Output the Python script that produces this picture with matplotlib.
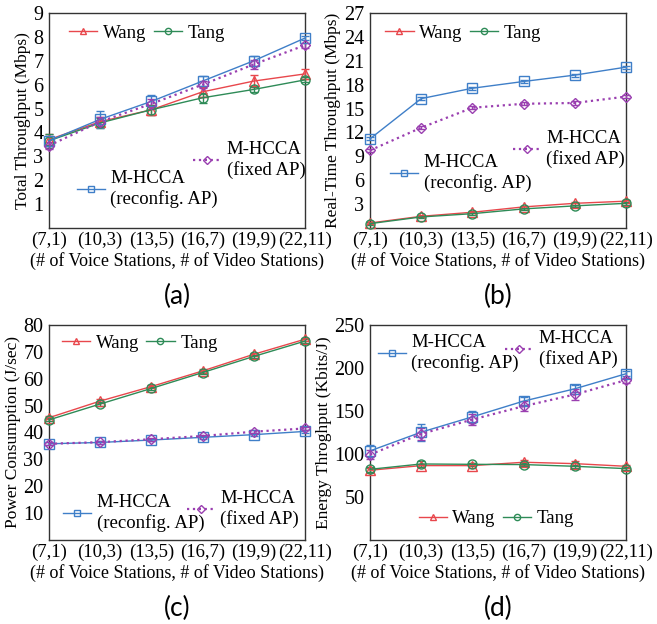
"""Four-panel M-HCCA comparison (throughput, real-time throughput, power, energy)"""
import matplotlib
matplotlib.use("Agg")
import matplotlib.pyplot as plt
from matplotlib.lines import Line2D
import numpy as np

plt.rcParams["font.family"] = ["Liberation Serif", "DejaVu Serif"]

categories = ["(7,1)", "(10,3)", "(13,5)", "(16,7)", "(19,9)", "(22,11)"]
x_label = "(# of Voice Stations, # of Video Stations)"

# (a) total throughput
a_wang = [3.70, 4.45, 4.95, 5.70, 6.15, 6.45]
a_tang = [3.65, 4.40, 4.95, 5.45, 5.80, 6.20]
a_reconf = [3.65, 4.55, 5.30, 6.15, 7.00, 7.95]
a_fixed = [3.45, 4.45, 5.20, 6.00, 6.85, 7.65]
a_wang_err = [0.25, 0.20, 0.20, 0.20, 0.25, 0.20]
a_tang_err = [0.30, 0.20, 0.20, 0.20, 0.10, 0.10]
a_reconf_err = [0.20, 0.35, 0.25, 0.20, 0.20, 0.10]
a_fixed_err = [0.15, 0.20, 0.20, 0.15, 0.20, 0.10]

# (b) real-time throughput
b_wang = [0.63, 1.47, 1.98, 2.65, 3.10, 3.37]
b_tang = [0.55, 1.39, 1.80, 2.40, 2.78, 3.10]
b_reconf = [11.2, 16.25, 17.55, 18.4, 19.2, 20.2]
b_fixed = [9.75, 12.6, 15.1, 15.6, 15.7, 16.5]
b_wang_err = [0.15, 0.15, 0.15, 0.15, 0.15, 0.2]
b_tang_err = [0.15, 0.15, 0.15, 0.15, 0.15, 0.2]
b_reconf_err = [0.2, 0.2, 0.2, 0.2, 0.2, 0.2]
b_fixed_err = [0.2, 0.2, 0.2, 0.2, 0.2, 0.2]

# (c) power consumption
c_wang = [45.5, 51.7, 57.1, 62.9, 69.1, 74.7]
c_tang = [44.7, 50.6, 56.4, 62.3, 68.3, 74.0]
c_reconf = [35.8, 36.3, 37.2, 38.2, 39.2, 40.4]
c_fixed = [35.8, 36.4, 37.5, 38.7, 40.3, 41.5]
c_wang_err = [0.6, 0.6, 0.6, 0.6, 0.6, 0.6]
c_tang_err = [0.6, 0.6, 0.6, 0.6, 0.6, 0.6]
c_reconf_err = [0.5, 0.5, 0.5, 0.5, 0.5, 0.5]
c_fixed_err = [0.5, 0.5, 0.5, 0.5, 0.5, 0.5]

# (d) energy throughput
d_wang = [81.1, 86.5, 86.5, 90.4, 88.8, 85.7]
d_tang = [82.2, 88.4, 88.0, 87.7, 85.7, 83.0]
d_reconf = [103.6, 125.4, 143.2, 161.5, 175.8, 193.3]
d_fixed = [99.3, 123.4, 140.1, 155.6, 169.2, 185.9]
d_wang_err = [3, 2, 3, 3, 3, 2]
d_tang_err = [3, 3, 2, 2, 2, 2]
d_reconf_err = [7, 10, 7, 5, 4, 3]
d_fixed_err = [5, 7, 6, 6, 6, 3]

RED = "#e8474c"
GREEN = "#2e8b57"
BLUE = "#3f7fc8"
PURPLE = "#9a3fb0"

panels = [
    dict(pos=[0.0746, 0.6346, 0.3896, 0.3446], tag="(a)",
         ylabel="Total Throughput (Mbps)", ylim=9, ticks=np.arange(1, 10, 1),
         data=(a_wang, a_tang, a_reconf, a_fixed),
         err=(a_wang_err, a_tang_err, a_reconf_err, a_fixed_err),
         leg_wt=(0.078, 0.907), leg_rc=(0.108, 0.18), leg_fx=(0.562, 0.316)),
    dict(pos=[0.5632, 0.6346, 0.3896, 0.3446], tag="(b)",
         ylabel="Real-Time Throughput (Mbps)", ylim=27, ticks=np.arange(3, 28, 3),
         data=(b_wang, b_tang, b_reconf, b_fixed),
         err=(b_wang_err, b_tang_err, b_reconf_err, b_fixed_err),
         leg_wt=(0.06, 0.907), leg_rc=(0.078, 0.256), leg_fx=(0.557, 0.367)),
    dict(pos=[0.0746, 0.1346, 0.3896, 0.3446], tag="(c)",
         ylabel="Power Consumption (J/sec)", ylim=80, ticks=np.arange(10, 81, 10),
         data=(c_wang, c_tang, c_reconf, c_fixed),
         err=(c_wang_err, c_tang_err, c_reconf_err, c_fixed_err),
         leg_wt=(0.05, 0.915), leg_rc=(0.055, 0.126), leg_fx=(0.538, 0.143)),
    dict(pos=[0.5632, 0.1346, 0.3896, 0.3446], tag="(d)",
         ylabel="Energy Throghput (Kbits/J)", ylim=250, ticks=np.arange(50, 251, 50),
         data=(d_wang, d_tang, d_reconf, d_fixed),
         err=(d_wang_err, d_tang_err, d_reconf_err, d_fixed_err),
         leg_wt=(0.19, 0.098), leg_rc=(0.03, 0.87), leg_fx=(0.527, 0.888)),
]

styles = [
    dict(color=RED, marker="^", ls="-", label="Wang"),
    dict(color=GREEN, marker="o", ls="-", label="Tang"),
    dict(color=BLUE, marker="s", ls="-", label="M-HCCA\n(reconfig. AP)"),
    dict(color=PURPLE, marker="D", ls=":", label="M-HCCA\n(fixed AP)"),
]

fig = plt.figure(figsize=(6.57, 6.24), dpi=100)
xs = np.arange(len(categories))

for p in panels:
    ax = fig.add_axes(p["pos"])
    handles = []
    for vals, err, st in zip(p["data"], p["err"], styles):
        lw = 1.0 if st["ls"] == "-" else 1.6
        ms = 5.5 if st["marker"] == "D" else 6.5
        h = ax.errorbar(xs, vals, yerr=err, color=st["color"], ls=st["ls"],
                        lw=lw, marker=st["marker"], ms=ms, mfc="none", mew=1.0,
                        elinewidth=1.0, capsize=3, zorder=3)
        for art in h.get_children():
            art.set_clip_on(False)
        handles.append(Line2D([], [], color=st["color"], ls=st["ls"], lw=lw,
                              marker=st["marker"], ms=4.5, mfc="none", mew=1.0))

    ax.set_xlim(0, 5)
    ax.set_ylim(0, p["ylim"])
    ax.set_yticks(p["ticks"])
    ax.set_xticks(xs)
    ax.set_xticklabels(categories)
    ax.tick_params(axis="x", labelsize=13.5, length=0, pad=3)
    ax.tick_params(axis="y", labelsize=14.5, length=0, pad=4)
    ax.set_ylabel(p["ylabel"], fontsize=12.5, labelpad=2)
    ax.set_xlabel(x_label, fontsize=13, labelpad=2)
    for sp in ax.spines.values():
        sp.set_color("#333333")
        sp.set_linewidth(1.0)
    ax.text(0.5, -0.26, p["tag"], transform=ax.transAxes, ha="center",
            va="top", fontsize=19, family=["Lato", "DejaVu Sans"])

    common = dict(frameon=False, fontsize=13.5, borderpad=0, borderaxespad=0,
                  handlelength=1.5, handletextpad=0.3, loc="center left",
                  labelspacing=0.1)
    leg1 = ax.legend(handles[:2], [styles[0]["label"], styles[1]["label"]],
                     ncol=2, columnspacing=0.4, bbox_to_anchor=p["leg_wt"],
                     **common)
    ax.add_artist(leg1)
    leg2 = ax.legend([handles[2]], [styles[2]["label"]],
                     bbox_to_anchor=p["leg_rc"], **common)
    ax.add_artist(leg2)
    ax.legend([handles[3]], [styles[3]["label"]],
              bbox_to_anchor=p["leg_fx"], **common)

fig.savefig("out.png", dpi=100, facecolor="white")
